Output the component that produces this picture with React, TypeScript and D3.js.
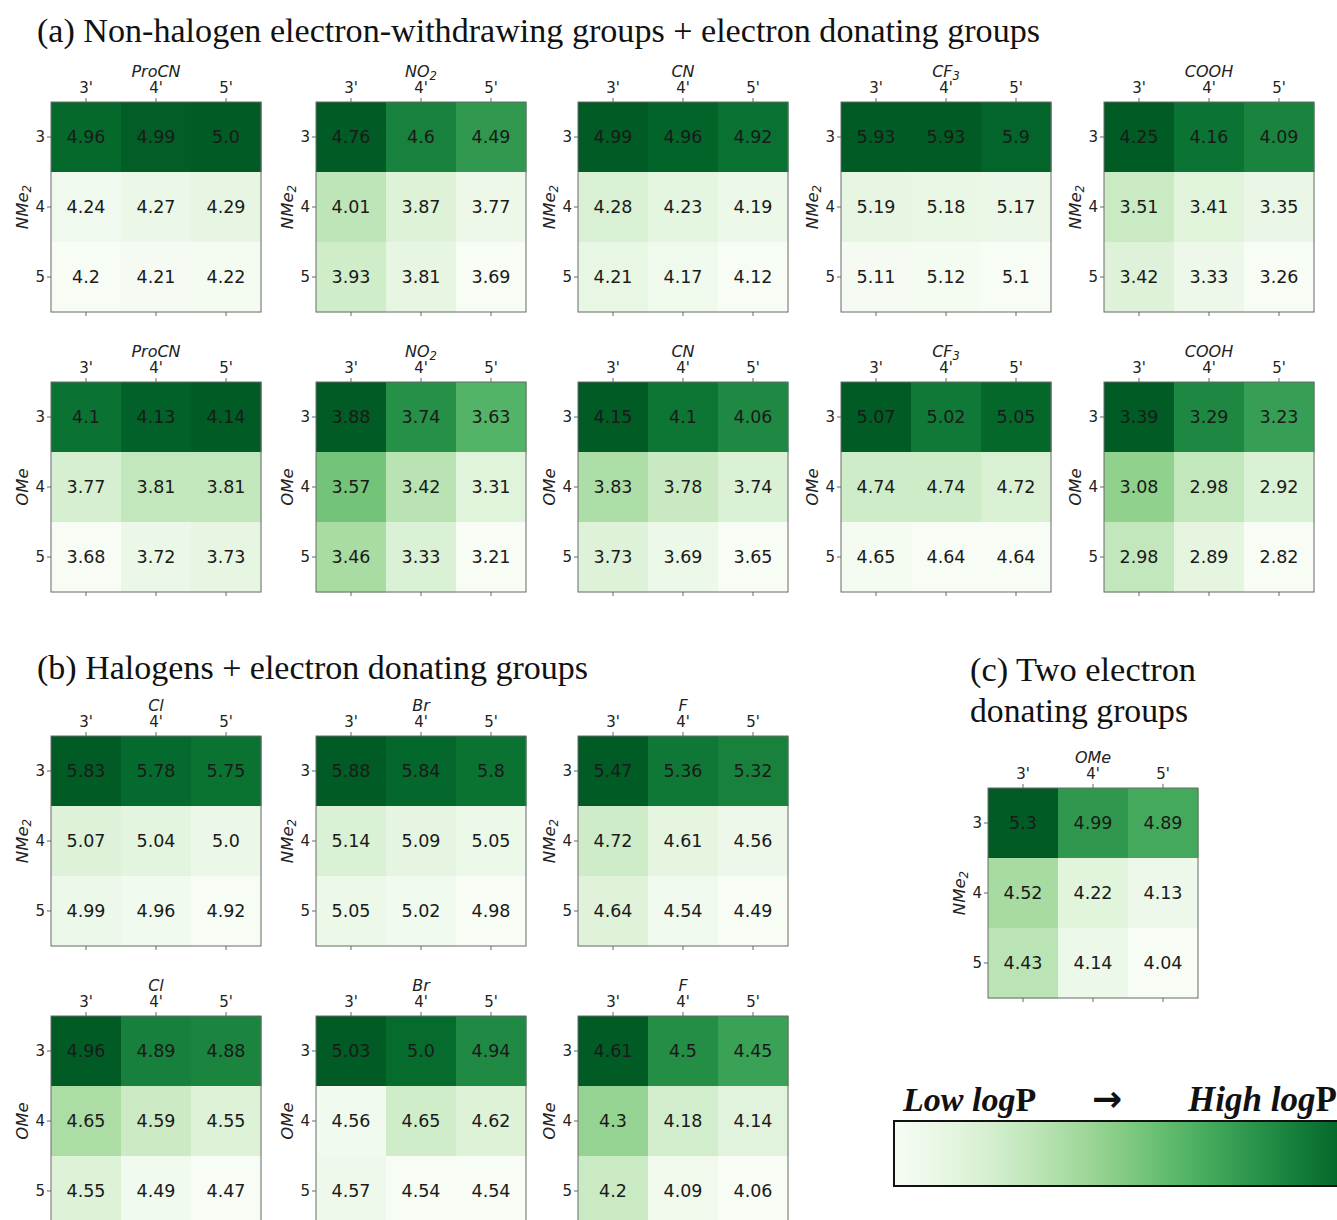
import React from "react";
import * as d3 from "d3";

// Axis tick labels shared by every heatmap
const colTicks = ["3'", "4'", "5'"];
const rowTicks = ["3", "4", "5"];

// (a) non-halogen electron-withdrawing groups
const ewgGroups = ["ProCN", "NO_2", "CN", "CF_3", "COOH"];
const nme2Ewg = [
  [[4.96, 4.99, 5.0], [4.24, 4.27, 4.29], [4.2, 4.21, 4.22]],
  [[4.76, 4.6, 4.49], [4.01, 3.87, 3.77], [3.93, 3.81, 3.69]],
  [[4.99, 4.96, 4.92], [4.28, 4.23, 4.19], [4.21, 4.17, 4.12]],
  [[5.93, 5.93, 5.9], [5.19, 5.18, 5.17], [5.11, 5.12, 5.1]],
  [[4.25, 4.16, 4.09], [3.51, 3.41, 3.35], [3.42, 3.33, 3.26]],
];
const omeEwg = [
  [[4.1, 4.13, 4.14], [3.77, 3.81, 3.81], [3.68, 3.72, 3.73]],
  [[3.88, 3.74, 3.63], [3.57, 3.42, 3.31], [3.46, 3.33, 3.21]],
  [[4.15, 4.1, 4.06], [3.83, 3.78, 3.74], [3.73, 3.69, 3.65]],
  [[5.07, 5.02, 5.05], [4.74, 4.74, 4.72], [4.65, 4.64, 4.64]],
  [[3.39, 3.29, 3.23], [3.08, 2.98, 2.92], [2.98, 2.89, 2.82]],
];

// (b) halogens
const halogenGroups = ["Cl", "Br", "F"];
const nme2Hal = [
  [[5.83, 5.78, 5.75], [5.07, 5.04, 5.0], [4.99, 4.96, 4.92]],
  [[5.88, 5.84, 5.8], [5.14, 5.09, 5.05], [5.05, 5.02, 4.98]],
  [[5.47, 5.36, 5.32], [4.72, 4.61, 4.56], [4.64, 4.54, 4.49]],
];
const omeHal = [
  [[4.96, 4.89, 4.88], [4.65, 4.59, 4.55], [4.55, 4.49, 4.47]],
  [[5.03, 5.0, 4.94], [4.56, 4.65, 4.62], [4.57, 4.54, 4.54]],
  [[4.61, 4.5, 4.45], [4.3, 4.18, 4.14], [4.2, 4.09, 4.06]],
];

// (c) two electron donating groups
const twoEdgGroup = "OMe";
const twoEdg = [[5.3, 4.99, 4.89], [4.52, 4.22, 4.13], [4.43, 4.14, 4.04]];

const GRID = 210;
const TOP_T = 0.93;
const sans = "'DejaVu Sans', sans-serif";
const serif = "'Liberation Serif', 'Times New Roman', serif";

function fmt(v: number): string {
  const s = v.toFixed(2);
  return s.endsWith("0") ? s.slice(0, -1) : s;
}

function Sub({ label, size }: { label: string; size: number }) {
  const [base, sub] = label.split("_");
  return (
    <>
      <tspan>{base}</tspan>
      {sub && (
        <tspan dy={size * 0.3} fontSize={size * 0.72}>
          {sub}
        </tspan>
      )}
    </>
  );
}

function Heatmap({ x, y, title, ylabel, values }: { x: number; y: number; title: string; ylabel: string; values: number[][] }) {
  const xs = d3.scaleBand().domain(colTicks).range([0, GRID]);
  const ys = d3.scaleBand().domain(rowTicks).range([0, GRID]);
  const [lo, hi] = d3.extent(values.flat()) as [number, number];
  const t = d3.scaleLinear().domain([lo, hi]).range([0, TOP_T]);
  const color = (v: number) => d3.interpolateGreens(t(v));
  const bw = xs.bandwidth();
  return (
    <g transform={`translate(${x},${y})`}>
      {values.map((row, i) =>
        row.map((v, j) => (
          <rect
            key={`c${i}${j}`}
            x={xs(colTicks[j])!}
            y={ys(rowTicks[i])!}
            width={bw + 0.5}
            height={ys.bandwidth() + 0.5}
            fill={color(v)}
          />
        ))
      )}
      {values.map((row, i) =>
        row.map((v, j) => (
          <text
            key={`t${i}${j}`}
            x={xs(colTicks[j])! + bw / 2}
            y={ys(rowTicks[i])! + ys.bandwidth() / 2}
            textAnchor="middle"
            dominantBaseline="central"
            fontFamily={sans}
            fontSize={17.5}
            fill="#1a1a1a"
          >
            {fmt(v)}
          </text>
        ))
      )}
      <rect x={0} y={0} width={GRID} height={GRID} fill="none" stroke="#6a6a6a" strokeWidth={1} />
      {colTicks.map((c) => (
        <g key={c} transform={`translate(${xs(c)! + bw / 2},0)`}>
          <line y1={0} y2={-4} stroke="#666" />
          <line y1={GRID} y2={GRID + 4} stroke="#666" />
          <text y={-14} textAnchor="middle" dominantBaseline="central" fontFamily={sans} fontSize={15} fill="#222">
            {c}
          </text>
        </g>
      ))}
      {rowTicks.map((r) => (
        <g key={r} transform={`translate(0,${ys(r)! + ys.bandwidth() / 2})`}>
          <line x1={0} x2={-4} stroke="#666" />
          <text x={-6} textAnchor="end" dominantBaseline="central" fontFamily={sans} fontSize={15} fill="#222">
            {r}
          </text>
        </g>
      ))}
      <text x={GRID / 2} y={-31} textAnchor="middle" dominantBaseline="central" fontFamily={sans} fontStyle="italic" fontSize={16} fill="#222">
        <Sub label={title} size={16} />
      </text>
      <text
        transform={`translate(-29,${GRID / 2}) rotate(-90)`}
        textAnchor="middle"
        dominantBaseline="central"
        fontFamily={sans}
        fontStyle="italic"
        fontSize={16.5}
        fill="#222"
      >
        <Sub label={ylabel} size={16.5} />
      </text>
    </g>
  );
}

const colX = [51, 316, 578, 841, 1104];

export default function App() {
  const gradStops = d3.range(0, 1.0001, 0.1);
  return (
    <div style={{ position: "absolute", left: 0, top: 0 }}>
      <svg width={1337} height={1220} style={{ display: "block", background: "#fff" }}>
        <defs>
          <linearGradient id="logpGrad" x1="0" x2="1" y1="0" y2="0">
            {gradStops.map((s) => (
              <stop key={s} offset={s} stopColor={d3.interpolateGreens(s * 0.9)} />
            ))}
          </linearGradient>
        </defs>

        <text x={37} y={42} fontFamily={serif} fontSize={33} textLength={1003} lengthAdjust="spacingAndGlyphs" fill="#111">
          (a) Non-halogen electron-withdrawing groups + electron donating groups
        </text>
        {ewgGroups.map((g, k) => (
          <Heatmap key={`a1${g}`} x={colX[k]} y={102} title={g} ylabel="NMe_2" values={nme2Ewg[k]} />
        ))}
        {ewgGroups.map((g, k) => (
          <Heatmap key={`a2${g}`} x={colX[k]} y={382} title={g} ylabel="OMe" values={omeEwg[k]} />
        ))}

        <text x={37} y={679} fontFamily={serif} fontSize={33} textLength={551} lengthAdjust="spacingAndGlyphs" fill="#111">
          (b) Halogens + electron donating groups
        </text>
        {halogenGroups.map((g, k) => (
          <Heatmap key={`b1${g}`} x={colX[k]} y={736} title={g} ylabel="NMe_2" values={nme2Hal[k]} />
        ))}
        {halogenGroups.map((g, k) => (
          <Heatmap key={`b2${g}`} x={colX[k]} y={1016} title={g} ylabel="OMe" values={omeHal[k]} />
        ))}

        <text x={970} y={681} fontFamily={serif} fontSize={33} textLength={226} lengthAdjust="spacingAndGlyphs" fill="#111">
          (c) Two electron
        </text>
        <text x={970} y={722} fontFamily={serif} fontSize={33} textLength={218} lengthAdjust="spacingAndGlyphs" fill="#111">
          donating groups
        </text>
        <Heatmap x={988} y={788} title={twoEdgGroup} ylabel="NMe_2" values={twoEdg} />

        <text x={903} y={1111} fontFamily={serif} fontSize={34} fontWeight="bold" fill="#111">
          <tspan fontStyle="italic">Low log</tspan>
          <tspan>P</tspan>
        </text>
        <text x={1107} y={1111} textAnchor="middle" fontFamily={sans} fontSize={36} fontWeight="bold" fill="#111">
          →
        </text>
        <text x={1188} y={1111} fontFamily={serif} fontSize={35} fontWeight="bold" fill="#111">
          <tspan fontStyle="italic">High log</tspan>
          <tspan>P</tspan>
        </text>
        <rect x={894} y={1121} width={452} height={65} fill="url(#logpGrad)" stroke="#111" strokeWidth={2} />
      </svg>
    </div>
  );
}
